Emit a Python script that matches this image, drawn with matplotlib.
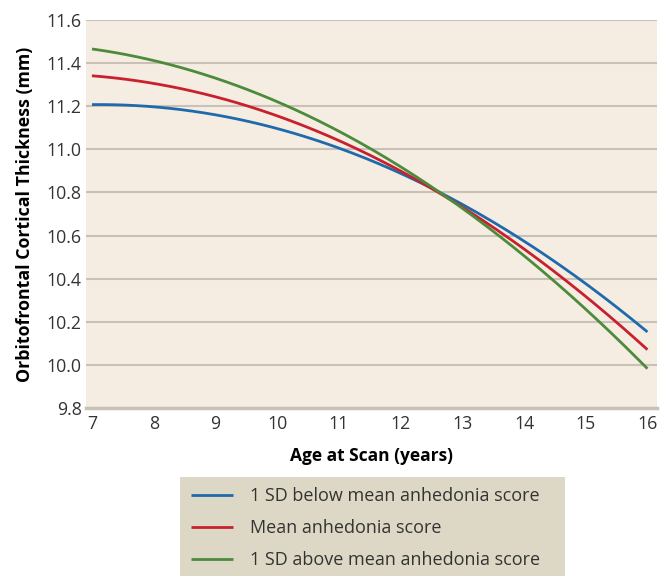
import matplotlib
matplotlib.use("Agg")
import matplotlib.pyplot as plt
from matplotlib.patches import Rectangle
import numpy as np

plt.rcParams['font.family'] = ['Open Sans', 'DejaVu Sans']

# values
ages = [7, 8, 9, 10, 11, 12, 13, 14, 15, 16]
below_sd = [11.21, 11.20, 11.16, 11.09, 11.00, 10.89, 10.75, 10.58, 10.38, 10.145]
mean_score = [11.34, 11.31, 11.25, 11.15, 11.03, 10.90, 10.74, 10.54, 10.32, 10.065]
above_sd = [11.47, 11.41, 11.33, 11.22, 11.08, 10.92, 10.73, 10.51, 10.26, 9.977]

series_labels = ["1 SD below mean anhedonia score",
                 "Mean anhedonia score",
                 "1 SD above mean anhedonia score"]
series_colors = ["#1f6aad", "#c8202f", "#4b8b3b"]

x_ticks = [7, 8, 9, 10, 11, 12, 13, 14, 15, 16]
y_ticks = [9.8, 10.0, 10.2, 10.4, 10.6, 10.8, 11.0, 11.2, 11.4, 11.6]

fig = plt.figure(figsize=(6.6, 5.76), dpi=100)
ax = fig.add_axes([0.130, 0.292, 0.865, 0.673])
ax.set_facecolor("#f5ede1")

# smooth each series with a quadratic fit through the read points
xs = np.linspace(7, 16, 200)
handles = []
for vals, col, lab in zip([below_sd, mean_score, above_sd], series_colors, series_labels):
    coef = np.polyfit(ages, vals, 2)
    h, = ax.plot(xs, np.polyval(coef, xs), color=col, lw=2.0, label=lab,
                 solid_capstyle="butt", zorder=3)
    handles.append(h)

ax.set_xlim(6.9, 16.15)
ax.set_ylim(9.8, 11.6)
ax.set_xticks(x_ticks)
ax.set_yticks(y_ticks)
ax.set_yticklabels([f"{v:.1f}" for v in y_ticks])
ax.grid(axis="y", color="#c9c1b8", lw=1.5, zorder=1)
ax.set_axisbelow(True)
for s in ax.spines.values():
    s.set_visible(False)
ax.tick_params(length=0, labelsize=12.8, labelcolor="#333333", pad=3)
ax.tick_params(axis="x", pad=5)
ax.axhline(9.8, color="#c9c1b8", lw=2.5, zorder=2, clip_on=False)

ax.set_xlabel("Age at Scan (years)", fontsize=12.5, fontweight="bold", labelpad=10)
ax.set_ylabel("Orbitofrontal Cortical Thickness (mm)", fontsize=12.8,
              fontweight="bold", labelpad=9)

# legend panel
fig.patches.append(Rectangle((0.273, 0.0), 0.583, 0.172, transform=fig.transFigure,
                             facecolor="#ddd8c6", edgecolor="none", zorder=0))
leg = fig.legend(handles=handles, loc="center left", bbox_to_anchor=(0.265, 0.083),
                 frameon=False, fontsize=13, handlelength=2.3, handletextpad=0.95,
                 labelspacing=0.78)
for t in leg.get_texts():
    t.set_color("#333333")

fig.savefig("out.png", dpi=100)
